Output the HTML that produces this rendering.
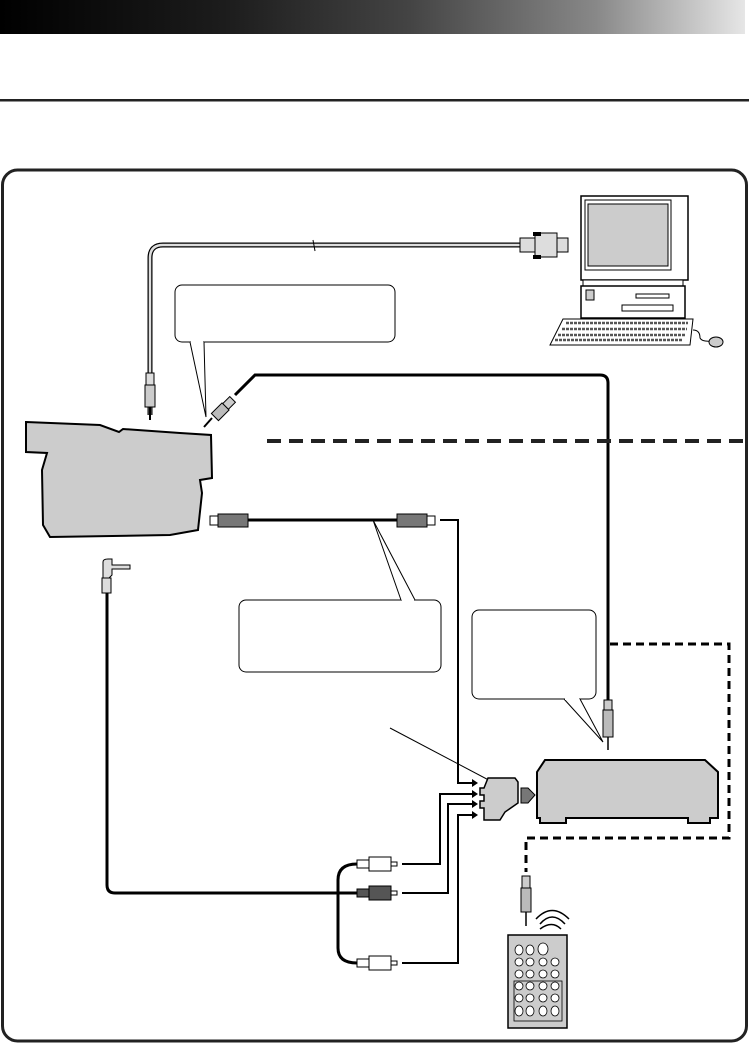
<!DOCTYPE html>
<html><head><meta charset="utf-8"><style>
html,body{margin:0;padding:0;background:#fff;}
svg{display:block;}
</style></head><body>
<svg width="749" height="1045" viewBox="0 0 749 1045" xmlns="http://www.w3.org/2000/svg">
<defs>
<linearGradient id="hg" x1="0" x2="1" y1="0" y2="0">
<stop offset="0" stop-color="#000"/><stop offset="0.3" stop-color="#1c1c1c"/><stop offset="0.55" stop-color="#444"/><stop offset="0.8" stop-color="#888"/><stop offset="1" stop-color="#e6e6e6"/>
</linearGradient>
</defs>
<rect x="0" y="0" width="745" height="34" fill="url(#hg)"/>
<rect x="0" y="99" width="749" height="2.5" fill="#222"/>
<rect x="2.5" y="170" width="744" height="871" rx="15" fill="none" stroke="#222" stroke-width="3"/>

<!-- serial cable -->
<path d="M150 415 V258 Q150 245 163 245 H520" fill="none" stroke="#000" stroke-width="5"/>
<path d="M150 415 V258 Q150 245 163 245 H520" fill="none" stroke="#ddd" stroke-width="2.5"/>
<line x1="313" y1="240" x2="315" y2="251" stroke="#000" stroke-width="1"/>
<rect x="520" y="238" width="15" height="14" fill="#ddd" stroke="#000"/>
<rect x="535" y="233" width="22" height="24" fill="#ddd" stroke="#000"/>
<rect x="557" y="238" width="11" height="14" fill="#ddd" stroke="#000"/>
<rect x="533" y="232" width="8" height="4" fill="#000"/><rect x="533" y="255" width="8" height="4" fill="#000"/>
<rect x="146" y="373" width="8" height="12" fill="#ddd" stroke="#000"/>
<rect x="145" y="385" width="10" height="22" fill="#ccc" stroke="#000"/>
<line x1="150" y1="407" x2="150" y2="420" stroke="#000" stroke-width="2"/>

<!-- computer -->
<rect x="581" y="196" width="107" height="84" fill="#fff" stroke="#000" stroke-width="1.5"/>
<rect x="585" y="200" width="86" height="70" fill="none" stroke="#000"/>
<rect x="588" y="204" width="80" height="62" fill="#ccc" stroke="#000"/>
<rect x="583" y="280" width="100" height="6" fill="#fff" stroke="#000"/>
<rect x="581" y="286" width="104" height="32" fill="#fff" stroke="#000" stroke-width="1.5"/>
<rect x="586" y="290" width="8" height="10" fill="#ccc" stroke="#000"/>
<rect x="636" y="294" width="33" height="4" fill="#fff" stroke="#000"/>
<rect x="622" y="305" width="51" height="6" fill="#fff" stroke="#000"/>
<path d="M563 319 H693 L690 345 H550 Z" fill="#fff" stroke="#000"/>
<path d="M566 323 H688 M562 329 H687 M558 335 H685 M555 340 H683" stroke="#555" stroke-width="2.5" stroke-dasharray="3 1"/>
<path d="M693 330 Q700 330 700 338 Q702 342 712 341" fill="none" stroke="#000"/>
<ellipse cx="716" cy="342" rx="7" ry="5" fill="#ccc" stroke="#000"/>

<!-- bubble 1 -->
<rect x="175" y="285" width="220" height="57" rx="7" fill="#fff" stroke="#000"/>
<path d="M190 342 L206 417 L204 342" fill="#fff" stroke="#000"/>
<line x1="191" y1="342" x2="203" y2="342" stroke="#fff" stroke-width="2"/>

<!-- black cable to VCR -->
<path d="M235 395 L255 375 H600 Q608 375 608 383 V705" fill="none" stroke="#000" stroke-width="3"/>
<g transform="rotate(45 222 410)">
<rect x="218" y="395" width="8" height="10" fill="#ccc" stroke="#000"/>
<rect x="217" y="405" width="10" height="15" fill="#bbb" stroke="#000"/>
</g>
<line x1="212" y1="418" x2="204" y2="427" stroke="#000" stroke-width="2"/>
<rect x="604" y="700" width="8" height="10" fill="#ccc" stroke="#000"/>
<rect x="603" y="710" width="10" height="27" fill="#bbb" stroke="#000"/>
<line x1="608" y1="737" x2="608" y2="750" stroke="#000" stroke-width="1.5"/>

<!-- camcorder -->
<path d="M26 422 L100 425 L119 432 L123 429 L180 433 L211 435 L212 478 L200 480 L202 493 L198 530 L170 535 L50 537 L43 525 L42 470 L47 453 L26 452 Z" fill="#ccc" stroke="#000" stroke-width="2"/>

<!-- dashed line -->
<line x1="267" y1="441" x2="749" y2="441" stroke="#222" stroke-width="4" stroke-dasharray="14 8"/>

<!-- s-video -->
<line x1="248" y1="520" x2="400" y2="520" stroke="#000" stroke-width="3"/>
<rect x="210" y="516" width="8" height="9" fill="#fff" stroke="#000"/>
<rect x="218" y="514" width="30" height="13" fill="#777" stroke="#000"/>
<rect x="397" y="514" width="30" height="13" fill="#777" stroke="#000"/>
<rect x="427" y="516" width="8" height="9" fill="#fff" stroke="#000"/>
<path d="M440 520 H458 V783 H476" fill="none" stroke="#000" stroke-width="2"/>

<!-- bubble 2 -->
<rect x="239" y="600" width="202" height="72" rx="7" fill="#fff" stroke="#000"/>
<path d="M401 600 L373 520 L415 600" fill="#fff" stroke="#000"/>
<line x1="402" y1="600" x2="414" y2="600" stroke="#fff" stroke-width="2"/>

<!-- bubble 3 -->
<rect x="472" y="610" width="124" height="89" rx="7" fill="#fff" stroke="#000"/>
<path d="M564 699 L603 742 L580 699" fill="#fff" stroke="#000"/>
<line x1="565" y1="699" x2="579" y2="699" stroke="#fff" stroke-width="2"/>

<!-- dashed remote line -->
<path d="M610 644 H729 V838 H526 V872" fill="none" stroke="#000" stroke-width="3" stroke-dasharray="8 5"/>

<!-- pointer -->
<line x1="390" y1="728" x2="500" y2="786" stroke="#000" stroke-width="1"/>

<!-- scart adapter -->
<path d="M488 778 H515 L518 782 V803 L505 812 L500 820 H484 V808 H480 V801 H484 V795 H480 V788 H484 Z" fill="#ccc" stroke="#000" stroke-width="1.5"/>
<path d="M521 788 H528 L535 795 L528 803 H521 Z" fill="#777" stroke="#000"/>

<!-- VCR -->
<path d="M545 760 H705 L718 772 V818 H710 V823 H688 V818 H566 V823 H540 V818 H537 V772 Z" fill="#ccc" stroke="#000" stroke-width="2"/>

<!-- arrows into adapter -->
<g stroke="#000" stroke-width="2" fill="none">
<path d="M402 864 H440 V794 H474"/>
<path d="M402 893 H448 V804 H474"/>
<path d="M402 963 H458 V815 H474"/>
</g>
<g fill="#000">
<path d="M478 783 l-6 -4 v8 z"/><path d="M478 794 l-6 -4 v8 z"/><path d="M478 804 l-6 -4 v8 z"/><path d="M478 815 l-6 -4 v8 z"/>
</g>

<!-- cable from 2.5mm plug -->
<path d="M107 592 V885 Q107 893 115 893 H357" fill="none" stroke="#000" stroke-width="3"/>
<path d="M357 864 Q338 864 338 880 V948 Q338 963 357 963" fill="none" stroke="#000" stroke-width="3"/>
<path d="M103 562 Q103 559 108 559 H112 V565 H130 V569 H112 V575 L109 578 H103 Z" fill="#ddd" stroke="#000"/>
<rect x="102" y="578" width="9" height="15" fill="#ddd" stroke="#000"/>

<!-- RCA plugs -->
<g stroke="#000">
<rect x="357" y="860" width="12" height="8" fill="#fff"/><rect x="369" y="857" width="22" height="14" fill="#fff"/><rect x="391" y="862" width="6" height="4" fill="#fff"/>
<rect x="357" y="889" width="12" height="8" fill="#555"/><rect x="369" y="886" width="22" height="14" fill="#555"/><rect x="391" y="891" width="6" height="4" fill="#fff"/>
<rect x="357" y="959" width="12" height="8" fill="#fff"/><rect x="369" y="956" width="22" height="14" fill="#fff"/><rect x="391" y="961" width="6" height="4" fill="#fff"/>
</g>

<!-- remote plug -->
<rect x="522" y="876" width="8" height="12" fill="#ccc" stroke="#000"/>
<rect x="521" y="888" width="10" height="24" fill="#bbb" stroke="#000"/>
<line x1="526" y1="912" x2="526" y2="926" stroke="#000" stroke-width="1.5"/>
<g fill="none" stroke="#000" stroke-width="1.5">
<path d="M540 924 Q552 910 565 924"/><path d="M536 919 Q552 902 569 919"/><path d="M540 929 Q552 920 561 929" />
</g>
<!-- remote -->
<rect x="508" y="935" width="59" height="93" fill="#ccc" stroke="#000" stroke-width="1.5"/>
<g fill="#fff" stroke="#000" stroke-width="0.8">
<ellipse cx="519" cy="950" rx="4" ry="5"/><ellipse cx="530" cy="950" rx="4" ry="5"/><ellipse cx="543" cy="949" rx="5" ry="6"/>
<ellipse cx="519" cy="962" rx="4" ry="4"/><ellipse cx="530" cy="962" rx="4" ry="4"/><ellipse cx="543" cy="962" rx="4" ry="4"/><ellipse cx="555" cy="962" rx="4" ry="4"/>
<ellipse cx="519" cy="974" rx="4" ry="4"/><ellipse cx="530" cy="974" rx="4" ry="4"/><ellipse cx="543" cy="974" rx="4" ry="4"/><ellipse cx="555" cy="974" rx="4" ry="4"/>
<rect x="514" y="981" width="48" height="40" fill="none"/>
<ellipse cx="519" cy="986" rx="4" ry="4"/><ellipse cx="530" cy="986" rx="4" ry="4"/><ellipse cx="543" cy="986" rx="4" ry="4"/><ellipse cx="555" cy="986" rx="4" ry="4"/>
<ellipse cx="519" cy="998" rx="4" ry="4"/><ellipse cx="530" cy="998" rx="4" ry="4"/><ellipse cx="543" cy="998" rx="4" ry="4"/><ellipse cx="555" cy="998" rx="4" ry="4"/>
<ellipse cx="519" cy="1011" rx="4" ry="5"/><ellipse cx="530" cy="1011" rx="4" ry="5"/><ellipse cx="543" cy="1011" rx="4" ry="5"/><ellipse cx="555" cy="1011" rx="4" ry="5"/>
</g>
</svg>
</body></html>
